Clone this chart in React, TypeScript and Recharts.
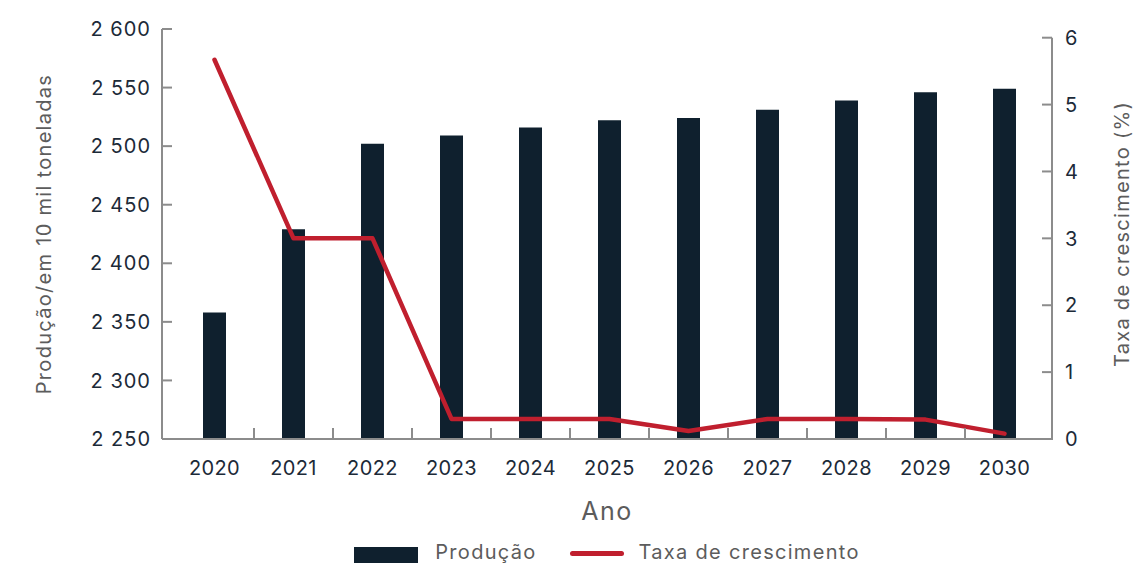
import React from 'react';
import { ComposedChart, Bar, Line, XAxis, YAxis } from 'recharts';

const years = ['2020', '2021', '2022', '2023', '2024', '2025', '2026', '2027', '2028', '2029', '2030'];
const production = [2358, 2429, 2502, 2509, 2516, 2522, 2524, 2531, 2539, 2546, 2549];
const growth = [5.67, 3.0, 3.0, 0.3, 0.3, 0.3, 0.12, 0.3, 0.3, 0.29, 0.08];
const leftTicks = [2250, 2300, 2350, 2400, 2450, 2500, 2550, 2600];
const rightTicks = [0, 1, 2, 3, 4, 5, 6];

const data = years.map((y, i) => ({ year: y, production: production[i], growth: growth[i] }));

const FONT = 'Inter, "Open Sans", sans-serif';
const BAR = '#0f202e';
const RED = '#c01f2e';
const AXIS = '#8c8c8c';
const TICK_TXT = '#1c2a38';
const TITLE = '#5c5c5c';
const RIGHT_MAX = 6.13;
const PAD_L = 13;
const PAD_R = 8;

const fmt = (v: number) => `${Math.floor(v / 1000)} ${String(v % 1000).padStart(3, '0')}`;

const LeftTick = (props: any) => {
  const { x, y, payload } = props;
  const axisX = x + 12;
  return (
    <g>
      <line x1={axisX} x2={axisX + 10} y1={y} y2={y} stroke={AXIS} strokeWidth={2} />
      <text x={x + 1} y={y} dy="0.36em" textAnchor="end" fill={TICK_TXT} fontSize={20} letterSpacing={1} fontFamily={FONT}>
        {fmt(payload.value)}
      </text>
    </g>
  );
};

const RightTick = (props: any) => {
  const { x, y, payload, height } = props;
  const axisX = x - 13;
  const step = height / RIGHT_MAX;
  return (
    <g>
      {payload.value === 0 && height ? (
        <line x1={axisX} x2={axisX} y1={y + 1} y2={y - step * 6} stroke={AXIS} strokeWidth={2} />
      ) : null}
      <line x1={axisX - 10} x2={axisX} y1={y} y2={y} stroke={AXIS} strokeWidth={2} />
      <text x={x} y={y} dy="0.36em" textAnchor="start" fill={TICK_TXT} fontSize={20} fontFamily={FONT}>
        {payload.value}
      </text>
    </g>
  );
};

const XTick = (props: any) => {
  const { x, y, payload, index, width } = props;
  const bw = (width - PAD_L - PAD_R) / years.length;
  return (
    <g>
      {index > 0 ? (
        <line x1={x - bw / 2} x2={x - bw / 2} y1={y} y2={y - 11} stroke={AXIS} strokeWidth={2} />
      ) : null}
      <text x={x} y={y + 29} dy="0.36em" textAnchor="middle" fill={TICK_TXT} fontSize={20} letterSpacing={0.4} fontFamily={FONT}>
        {payload.value}
      </text>
    </g>
  );
};

export default function App() {
  return (
    <div style={{ position: 'absolute', left: 0, top: 0, width: 1135, height: 563, background: '#fff', overflow: 'hidden' }}>
      <ComposedChart
        width={1135}
        height={563}
        data={data}
        margin={{ top: 29, right: 0, bottom: 64, left: 0 }}
        barCategoryGap={0}
      >
        <XAxis
          dataKey="year"
          height={60}
          padding={{ left: PAD_L, right: PAD_R }}
          axisLine={{ stroke: AXIS, strokeWidth: 2 }}
          tickLine={false}
          tickSize={0}
          tickMargin={0}
          interval={0}
          tick={<XTick />}
          label={{
            content: (p: any) => {
              const vb = p.viewBox || {};
              return (
                <text x={vb.x + vb.width / 2} y={vb.y + 72} dy="0.36em" textAnchor="middle" fill={TITLE} fontSize={25} letterSpacing={1.5} fontFamily={FONT}>
                  Ano
                </text>
              );
            },
          }}
        />
        <YAxis
          yAxisId="left"
          orientation="left"
          width={162}
          domain={[2250, 2600]}
          ticks={leftTicks}
          interval={0}
          allowDataOverflow
          axisLine={{ stroke: AXIS, strokeWidth: 2 }}
          tickLine={false}
          tickSize={0}
          tickMargin={12}
          tick={<LeftTick />}
          label={{
            content: (p: any) => {
              const vb = p.viewBox || {};
              const cx = vb.x + 44;
              const cy = vb.y + vb.height / 2;
              return (
                <text x={cx} y={cy} dy="0.36em" textAnchor="middle" transform={`rotate(-90 ${cx} ${cy})`} fill={TITLE} fontSize={20} letterSpacing={1.3} fontFamily={FONT}>
                  Produção/em 10 mil toneladas
                </text>
              );
            },
          }}
        />
        <YAxis
          yAxisId="right"
          orientation="right"
          width={83}
          domain={[0, RIGHT_MAX]}
          ticks={rightTicks}
          interval={0}
          allowDataOverflow
          axisLine={false}
          tickLine={false}
          tickSize={0}
          tickMargin={13}
          tick={<RightTick />}
          label={{
            content: (p: any) => {
              const vb = p.viewBox || {};
              const cx = vb.x + 70;
              const cy = vb.y + vb.height / 2;
              return (
                <text x={cx} y={cy} dy="0.36em" textAnchor="middle" transform={`rotate(-90 ${cx} ${cy})`} fill={TITLE} fontSize={20} letterSpacing={1.3} fontFamily={FONT}>
                  Taxa de crescimento (%)
                </text>
              );
            },
          }}
        />
        <Bar yAxisId="left" dataKey="production" fill={BAR} barSize={23} isAnimationActive={false} />
        <Line
          yAxisId="right"
          dataKey="growth"
          stroke={RED}
          strokeWidth={4.5}
          strokeLinecap="round"
          strokeLinejoin="round"
          dot={false}
          activeDot={false}
          type="linear"
          isAnimationActive={false}
        />
      </ComposedChart>
      <div
        style={{
          position: 'absolute',
          left: 162,
          width: 890,
          top: 542,
          height: 20,
          display: 'flex',
          alignItems: 'flex-start',
          justifyContent: 'center',
          fontFamily: FONT,
          fontSize: 20,
          lineHeight: '20px',
          letterSpacing: 1.3,
          color: TITLE,
        }}
      >
        <span style={{ display: 'inline-block', width: 64, height: 17, marginTop: 5, background: BAR }} />
        <span style={{ marginLeft: 17 }}>Produção</span>
        <span style={{ display: 'inline-block', width: 54, height: 5, borderRadius: 3, background: RED, marginLeft: 33, marginTop: 9 }} />
        <span style={{ marginLeft: 15 }}>Taxa de crescimento</span>
      </div>
    </div>
  );
}
